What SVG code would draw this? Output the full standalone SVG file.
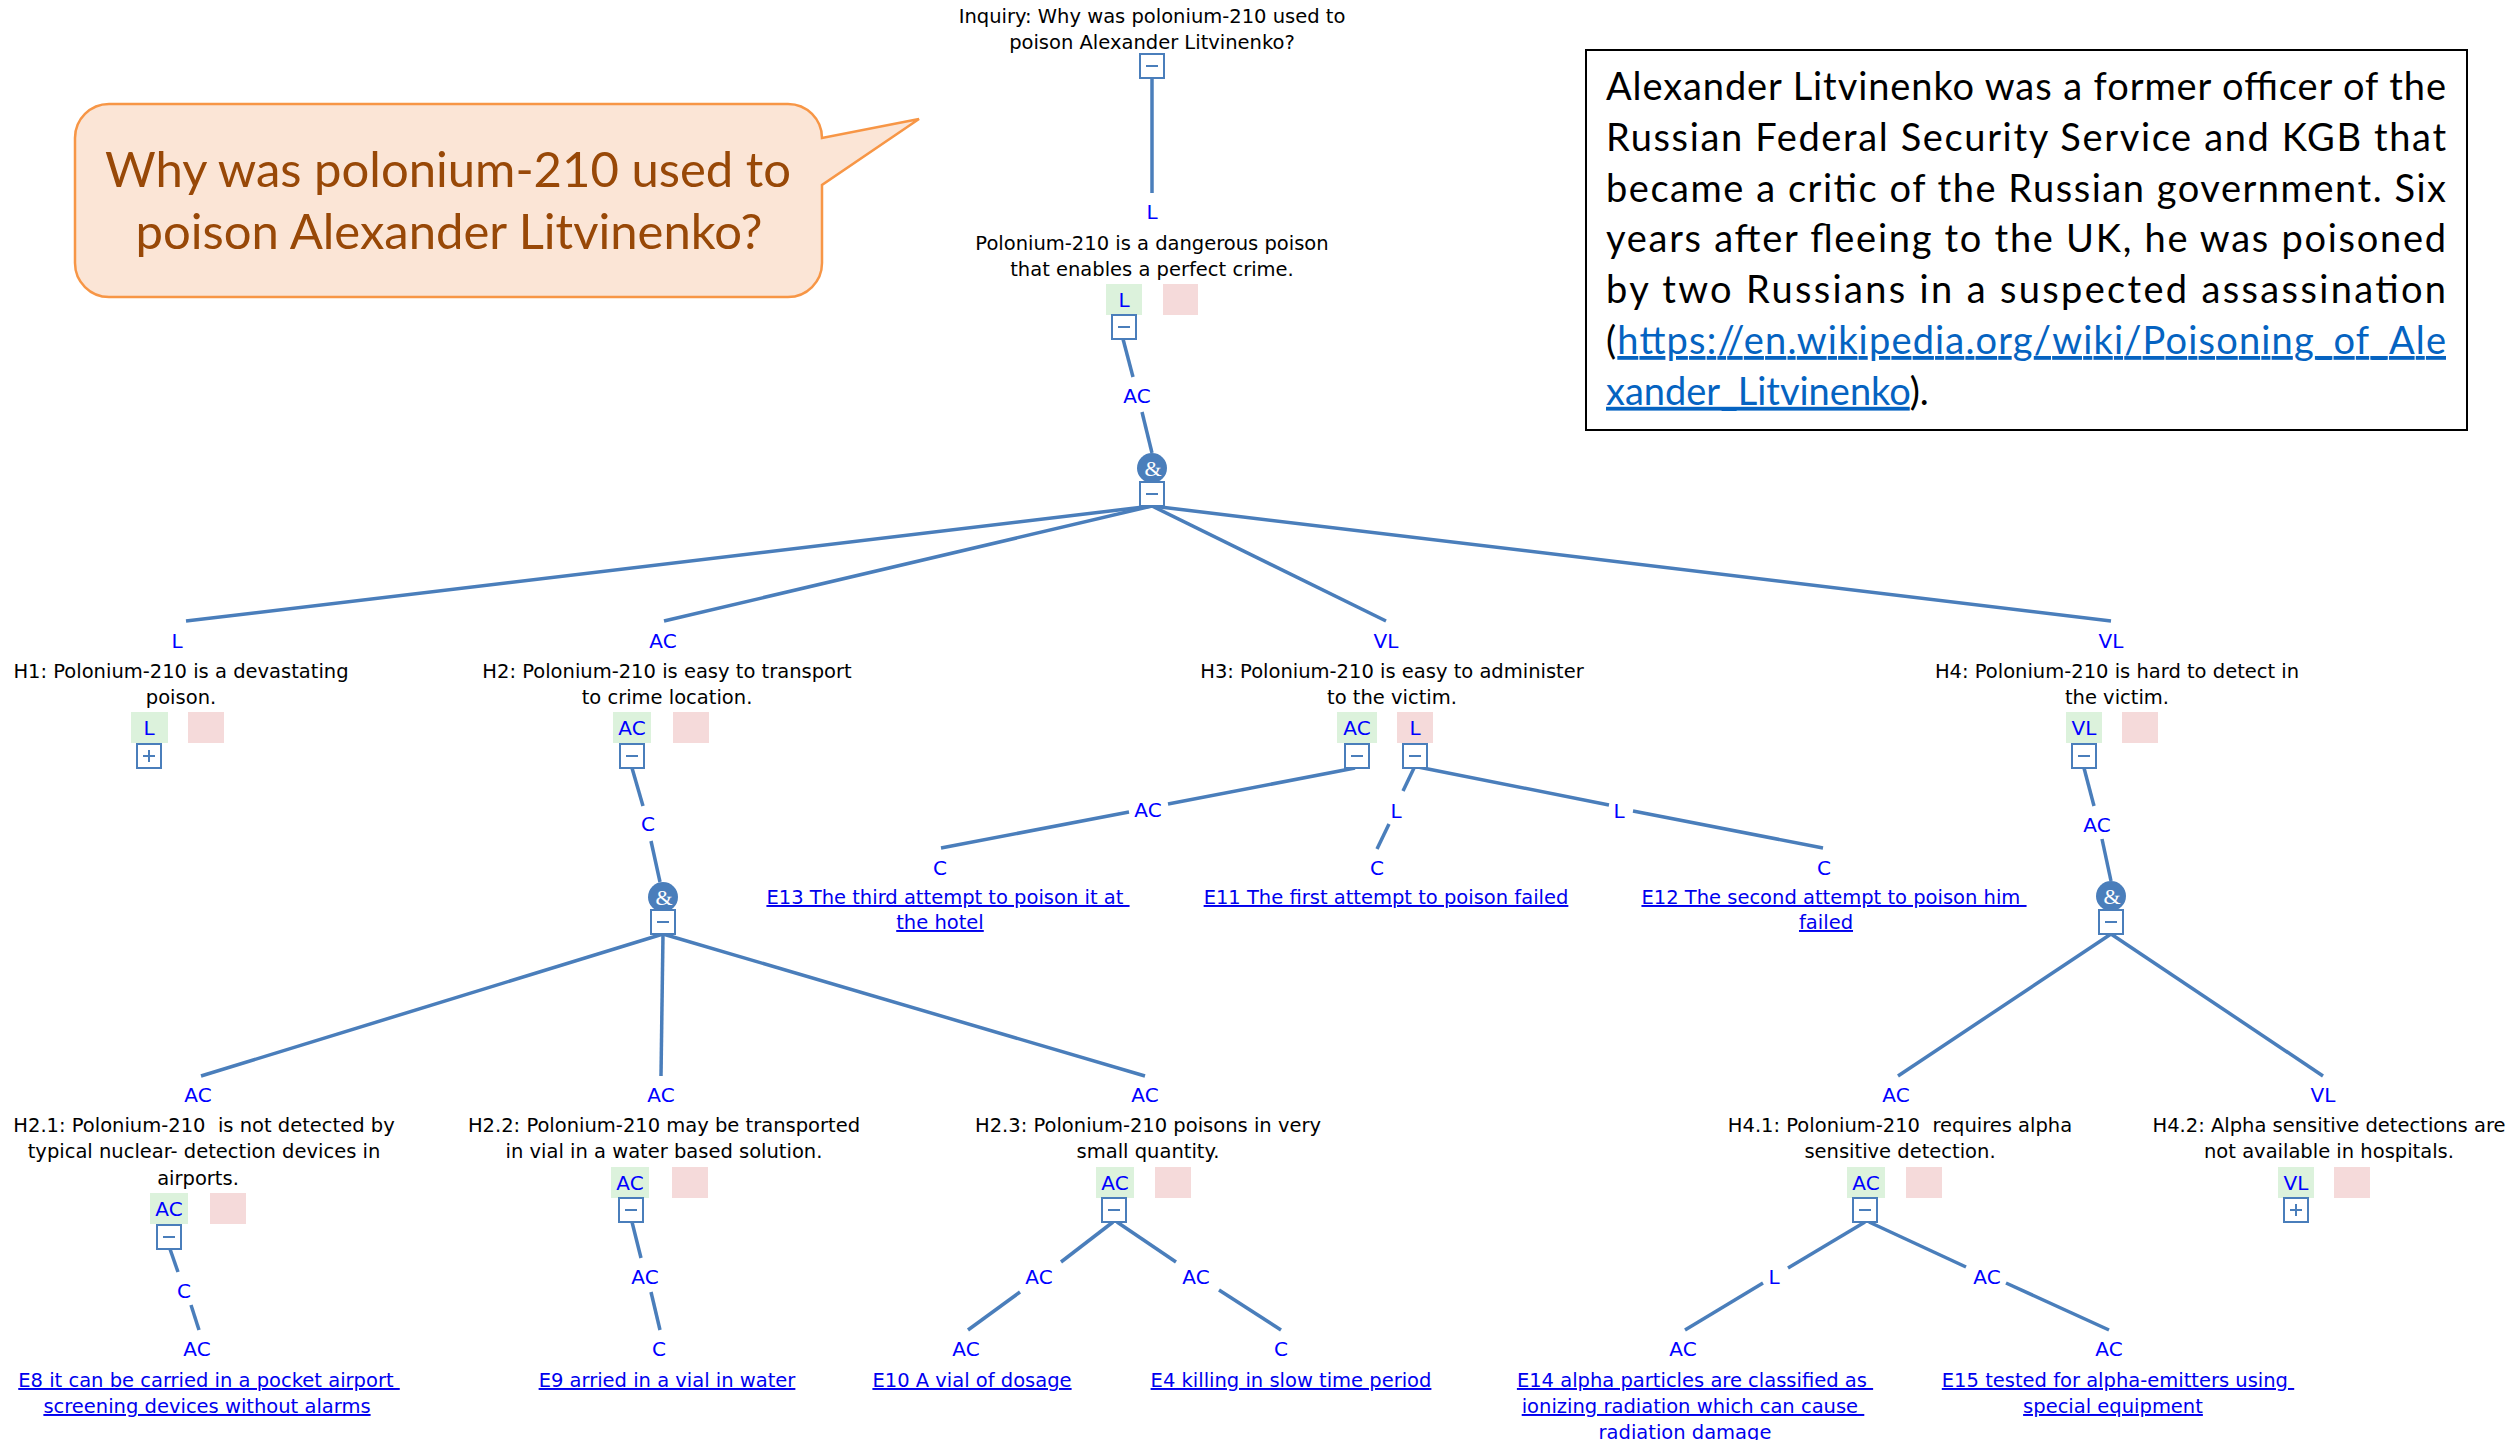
<svg xmlns="http://www.w3.org/2000/svg" xmlns:xlink="http://www.w3.org/1999/xlink" width="2514" height="1440" viewBox="0 0 2514 1440">
  <style>
    .t { font-family: "DejaVu Sans", Verdana, sans-serif; font-size: 19.5px; fill: #000; text-anchor: middle; }
    .lb { font-family: "DejaVu Sans", Verdana, sans-serif; font-size: 20px; fill: #0000ff; text-anchor: middle; }
    .lk { font-family: "DejaVu Sans", Verdana, sans-serif; font-size: 19.5px; fill: #0000ee; text-anchor: middle; text-decoration: underline; white-space: pre; }
    .e { stroke: #4a7ebb; stroke-width: 3.5; fill: none; }
    .bx { fill: #fff; stroke: #4a7ebb; stroke-width: 2; }
    .sg { stroke: #4a7ebb; stroke-width: 2; }
    .g { fill: #dcf2dc; }
    .p { fill: #f5dada; }
    .amp { fill: #4a7ebb; }
    .ampt { font-family: "Liberation Serif", serif; font-size: 22px; fill: #fff; text-anchor: middle; }
    .bub { font-family: Lato, "Open Sans", sans-serif; font-size: 49px; fill: #984807; text-anchor: middle; }
    .info { font-family: Lato, "Open Sans", sans-serif; font-size: 38px; fill: #000; }
    .url { fill: #0563c1; text-decoration: underline; }
  </style>
  <defs>
    <g id="minus">
      <rect class="bx" x="-12" y="0" width="24" height="24"/>
      <line class="sg" x1="-6" y1="12" x2="6" y2="12"/>
    </g>
    <g id="plus">
      <rect class="bx" x="-12" y="0" width="24" height="24"/>
      <line class="sg" x1="-6" y1="12" x2="6" y2="12"/>
      <line class="sg" x1="0" y1="6" x2="0" y2="18"/>
    </g>
  </defs>

  <!-- speech bubble -->
  <g id="bubble">
    <path d="M109,104 H788 A34,34 0 0 1 822,138 L919,119 L822,185 V263 A34,34 0 0 1 788,297 H109 A34,34 0 0 1 75,263 V138 A34,34 0 0 1 109,104 Z" fill="#fbe5d6" stroke="#f79646" stroke-width="2.5"/>
    <text class="bub" x="448" y="187">Why was polonium-210 used to</text>
    <text class="bub" x="449" y="249">poison Alexander Litvinenko?</text>
  </g>

  <!-- background note -->
  <g id="note">
    <rect x="1586" y="50" width="881" height="380" fill="#fff" stroke="#000" stroke-width="2"/>
    <text class="info" x="1606" y="100" textLength="840" lengthAdjust="spacing">Alexander Litvinenko was a former officer of the</text>
    <text class="info" x="1606" y="150.8" textLength="840" lengthAdjust="spacing">Russian Federal Security Service and KGB that</text>
    <text class="info" x="1606" y="201.6" textLength="840" lengthAdjust="spacing">became a critic of the Russian government. Six</text>
    <text class="info" x="1606" y="252.4" textLength="840" lengthAdjust="spacing">years after fleeing to the UK, he was poisoned</text>
    <text class="info" x="1606" y="303.2" textLength="840" lengthAdjust="spacing">by two Russians in a suspected assassination</text>
    <text class="info" x="1606" y="354" textLength="840" lengthAdjust="spacing">(<tspan class="url">https://en.wikipedia.org/wiki/Poisoning_of_Ale</tspan></text>
    <text class="info" x="1606" y="404.8"><tspan class="url">xander_Litvinenko</tspan>).</text>
  </g>

  <!-- connectors and their labels -->
  <g id="connectors">
    <line class="e" x1="1152" y1="78" x2="1152" y2="193"/>
    <text class="lb" x="1152" y="219">L</text>
    <line class="e" x1="1123" y1="339" x2="1133" y2="377"/>
    <text class="lb" x="1137" y="403">AC</text>
    <line class="e" x1="1142" y1="412" x2="1152" y2="453"/>

    <line class="e" x1="1152" y1="506" x2="186" y2="621"/>
    <text class="lb" x="177" y="648">L</text>
    <line class="e" x1="1152" y1="506" x2="664" y2="621"/>
    <text class="lb" x="663" y="648">AC</text>
    <line class="e" x1="1152" y1="506" x2="1386" y2="621"/>
    <text class="lb" x="1386" y="648">VL</text>
    <line class="e" x1="1152" y1="506" x2="2111" y2="621"/>
    <text class="lb" x="2111" y="648">VL</text>

    <!-- H2 branch -->
    <line class="e" x1="632" y1="768" x2="643" y2="806"/>
    <text class="lb" x="648" y="831">C</text>
    <line class="e" x1="651" y1="841" x2="660" y2="882"/>
    <line class="e" x1="663" y1="934" x2="201" y2="1076"/>
    <text class="lb" x="198" y="1102">AC</text>
    <line class="e" x1="663" y1="934" x2="661" y2="1076"/>
    <text class="lb" x="661" y="1102">AC</text>
    <line class="e" x1="663" y1="934" x2="1145" y2="1076"/>
    <text class="lb" x="1145" y="1102">AC</text>

    <!-- H2.1 evidence -->
    <line class="e" x1="170" y1="1249" x2="178" y2="1272"/>
    <text class="lb" x="184" y="1298">C</text>
    <line class="e" x1="191" y1="1305" x2="199" y2="1330"/>
    <text class="lb" x="197" y="1356">AC</text>

    <!-- H2.2 evidence -->
    <line class="e" x1="632" y1="1222" x2="641" y2="1258"/>
    <text class="lb" x="645" y="1284">AC</text>
    <line class="e" x1="651" y1="1292" x2="660" y2="1330"/>
    <text class="lb" x="659" y="1356">C</text>

    <!-- H2.3 evidence -->
    <line class="e" x1="1113" y1="1222" x2="1061" y2="1262"/>
    <text class="lb" x="1039" y="1284">AC</text>
    <line class="e" x1="1020" y1="1292" x2="968" y2="1330"/>
    <text class="lb" x="966" y="1356">AC</text>
    <line class="e" x1="1117" y1="1222" x2="1176" y2="1262"/>
    <text class="lb" x="1196" y="1284">AC</text>
    <line class="e" x1="1219" y1="1290" x2="1281" y2="1330"/>
    <text class="lb" x="1281" y="1356">C</text>

    <!-- H3 evidence -->
    <line class="e" x1="1355" y1="768" x2="1168" y2="804"/>
    <text class="lb" x="1148" y="817">AC</text>
    <line class="e" x1="1129" y1="812" x2="941" y2="848"/>
    <text class="lb" x="940" y="875">C</text>
    <line class="e" x1="1414" y1="768" x2="1403" y2="791"/>
    <text class="lb" x="1396" y="818">L</text>
    <line class="e" x1="1389" y1="824" x2="1377" y2="849"/>
    <text class="lb" x="1377" y="875">C</text>
    <line class="e" x1="1418" y1="767" x2="1609" y2="805"/>
    <text class="lb" x="1619" y="818">L</text>
    <line class="e" x1="1633" y1="811" x2="1823" y2="848"/>
    <text class="lb" x="1824" y="875">C</text>

    <!-- H4 branch -->
    <line class="e" x1="2084" y1="768" x2="2094" y2="806"/>
    <text class="lb" x="2097" y="832">AC</text>
    <line class="e" x1="2102" y1="839" x2="2111" y2="881"/>
    <line class="e" x1="2111" y1="934" x2="1898" y2="1076"/>
    <text class="lb" x="1896" y="1102">AC</text>
    <line class="e" x1="2111" y1="934" x2="2323" y2="1076"/>
    <text class="lb" x="2323" y="1102">VL</text>

    <!-- H4.1 evidence -->
    <line class="e" x1="1865" y1="1222" x2="1788" y2="1268"/>
    <text class="lb" x="1774" y="1284">L</text>
    <line class="e" x1="1763" y1="1283" x2="1685" y2="1330"/>
    <text class="lb" x="1683" y="1356">AC</text>
    <line class="e" x1="1869" y1="1222" x2="1966" y2="1267"/>
    <text class="lb" x="1987" y="1284">AC</text>
    <line class="e" x1="2006" y1="1283" x2="2109" y2="1330"/>
    <text class="lb" x="2109" y="1356">AC</text>
  </g>

  <!-- inquiry -->
  <g id="inquiry">
    <text class="t" x="1152" y="23">Inquiry: Why was polonium-210 used to</text>
    <text class="t" x="1152" y="49">poison Alexander Litvinenko?</text>
    <use href="#minus" x="1152" y="54"/>
  </g>

  <!-- top hypothesis -->
  <g id="claim">
    <text class="t" x="1152" y="250">Polonium-210 is a dangerous poison</text>
    <text class="t" x="1152" y="276">that enables a perfect crime.</text>
    <rect class="g" x="1106" y="284" width="36" height="31"/>
    <text class="lb" x="1124" y="307">L</text>
    <rect class="p" x="1163" y="284" width="35" height="31"/>
    <use href="#minus" x="1124" y="315"/>
  </g>

  <g id="and-top">
    <circle class="amp" cx="1152" cy="468" r="15"/>
    <text class="ampt" x="1153" y="476">&amp;</text>
    <use href="#minus" x="1152" y="482"/>
  </g>

  <!-- H1 -->
  <g id="h1">
    <text class="t" x="181" y="678">H1: Polonium-210 is a devastating</text>
    <text class="t" x="181" y="704">poison.</text>
    <rect class="g" x="131" y="712" width="37" height="31"/>
    <text class="lb" x="149" y="735">L</text>
    <rect class="p" x="188" y="712" width="36" height="31"/>
    <use href="#plus" x="149" y="744"/>
  </g>

  <!-- H2 -->
  <g id="h2">
    <text class="t" x="667" y="678">H2: Polonium-210 is easy to transport</text>
    <text class="t" x="667" y="704">to crime location.</text>
    <rect class="g" x="613" y="712" width="38" height="31"/>
    <text class="lb" x="632" y="735">AC</text>
    <rect class="p" x="673" y="712" width="36" height="31"/>
    <use href="#minus" x="632" y="744"/>
  </g>

  <g id="and-h2">
    <circle class="amp" cx="663" cy="897" r="15"/>
    <text class="ampt" x="664" y="905">&amp;</text>
    <use href="#minus" x="663" y="910"/>
  </g>

  <!-- H3 -->
  <g id="h3">
    <text class="t" x="1392" y="678">H3: Polonium-210 is easy to administer</text>
    <text class="t" x="1392" y="704">to the victim.</text>
    <rect class="g" x="1337" y="712" width="40" height="31"/>
    <text class="lb" x="1357" y="735">AC</text>
    <rect class="p" x="1397" y="712" width="36" height="31"/>
    <text class="lb" x="1415" y="735">L</text>
    <use href="#minus" x="1357" y="744"/>
    <use href="#minus" x="1415" y="744"/>
  </g>

  <!-- H4 -->
  <g id="h4">
    <text class="t" x="2117" y="678">H4: Polonium-210 is hard to detect in</text>
    <text class="t" x="2117" y="704">the victim.</text>
    <rect class="g" x="2066" y="712" width="36" height="31"/>
    <text class="lb" x="2084" y="735">VL</text>
    <rect class="p" x="2122" y="712" width="36" height="31"/>
    <use href="#minus" x="2084" y="744"/>
  </g>

  <g id="and-h4">
    <circle class="amp" cx="2111" cy="896" r="15"/>
    <text class="ampt" x="2112" y="904">&amp;</text>
    <use href="#minus" x="2111" y="910"/>
  </g>

  <!-- H2.1 -->
  <g id="h2-1">
    <text class="t" x="204" y="1132" xml:space="preserve">H2.1: Polonium-210  is not detected by</text>
    <text class="t" x="204" y="1158">typical nuclear- detection devices in</text>
    <text class="t" x="198" y="1185">airports.</text>
    <rect class="g" x="150" y="1193" width="38" height="31"/>
    <text class="lb" x="169" y="1216">AC</text>
    <rect class="p" x="210" y="1193" width="36" height="31"/>
    <use href="#minus" x="169" y="1225"/>
  </g>

  <!-- H2.2 -->
  <g id="h2-2">
    <text class="t" x="664" y="1132">H2.2: Polonium-210 may be transported</text>
    <text class="t" x="664" y="1158">in vial in a water based solution.</text>
    <rect class="g" x="611" y="1167" width="38" height="31"/>
    <text class="lb" x="630" y="1190">AC</text>
    <rect class="p" x="672" y="1167" width="36" height="31"/>
    <use href="#minus" x="631" y="1198"/>
  </g>

  <!-- H2.3 -->
  <g id="h2-3">
    <text class="t" x="1148" y="1132">H2.3: Polonium-210 poisons in very</text>
    <text class="t" x="1148" y="1158">small quantity.</text>
    <rect class="g" x="1096" y="1167" width="38" height="31"/>
    <text class="lb" x="1115" y="1190">AC</text>
    <rect class="p" x="1155" y="1167" width="36" height="31"/>
    <use href="#minus" x="1114" y="1198"/>
  </g>

  <!-- H4.1 -->
  <g id="h4-1">
    <text class="t" x="1900" y="1132" xml:space="preserve">H4.1: Polonium-210  requires alpha</text>
    <text class="t" x="1900" y="1158">sensitive detection.</text>
    <rect class="g" x="1847" y="1167" width="38" height="31"/>
    <text class="lb" x="1866" y="1190">AC</text>
    <rect class="p" x="1906" y="1167" width="36" height="31"/>
    <use href="#minus" x="1865" y="1198"/>
  </g>

  <!-- H4.2 -->
  <g id="h4-2">
    <text class="t" x="2329" y="1132">H4.2: Alpha sensitive detections are</text>
    <text class="t" x="2329" y="1158">not available in hospitals.</text>
    <rect class="g" x="2278" y="1167" width="36" height="31"/>
    <text class="lb" x="2296" y="1190">VL</text>
    <rect class="p" x="2334" y="1167" width="36" height="31"/>
    <use href="#plus" x="2296" y="1198"/>
  </g>

  <!-- evidence items -->
  <g id="e13">
    <text class="lk" x="948" y="904" xml:space="preserve">E13 The third attempt to poison it at </text>
    <text class="lk" x="940" y="929">the hotel</text>
  </g>
  <g id="e11">
    <text class="lk" x="1386" y="904">E11 The first attempt to poison failed</text>
  </g>
  <g id="e12">
    <text class="lk" x="1834" y="904" xml:space="preserve">E12 The second attempt to poison him </text>
    <text class="lk" x="1826" y="929">failed</text>
  </g>
  <g id="e8">
    <text class="lk" x="209" y="1387" xml:space="preserve">E8 it can be carried in a pocket airport </text>
    <text class="lk" x="207" y="1413">screening devices without alarms</text>
  </g>
  <g id="e9">
    <text class="lk" x="667" y="1387">E9 arried in a vial in water</text>
  </g>
  <g id="e10">
    <text class="lk" x="972" y="1387">E10 A vial of dosage</text>
  </g>
  <g id="e4">
    <text class="lk" x="1291" y="1387">E4 killing in slow time period</text>
  </g>
  <g id="e14">
    <text class="lk" x="1695" y="1387" xml:space="preserve">E14 alpha particles are classified as </text>
    <text class="lk" x="1693" y="1413" xml:space="preserve">ionizing radiation which can cause </text>
    <text class="lk" x="1685" y="1439">radiation damage</text>
  </g>
  <g id="e15">
    <text class="lk" x="2118" y="1387" xml:space="preserve">E15 tested for alpha-emitters using </text>
    <text class="lk" x="2113" y="1413">special equipment</text>
  </g>
</svg>
